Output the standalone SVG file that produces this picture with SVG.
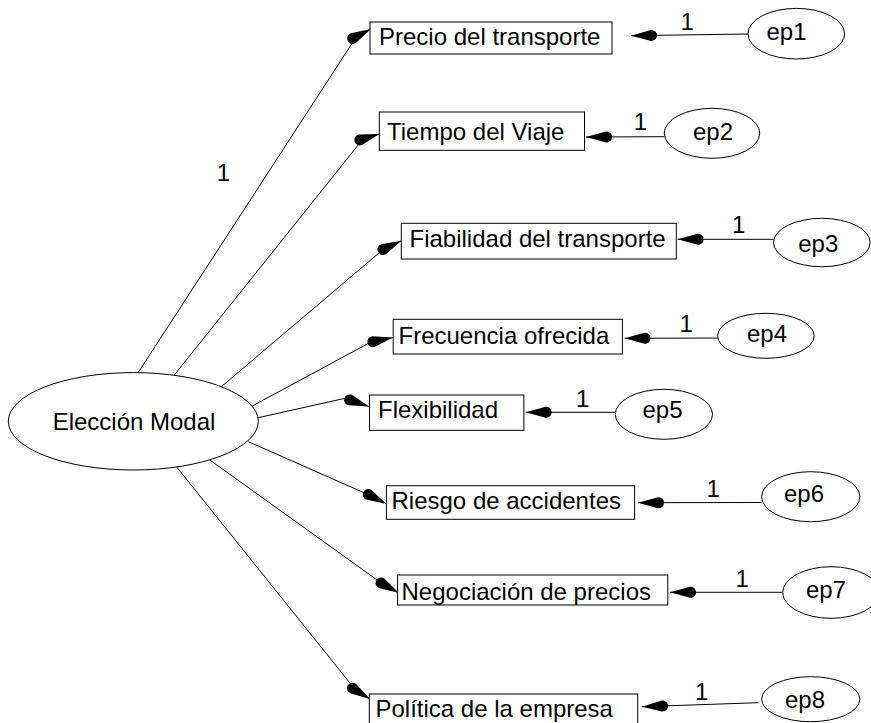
<svg xmlns="http://www.w3.org/2000/svg" width="871" height="723" viewBox="0 0 871 723">
<style>
text{font-family:"Liberation Sans",Arial,sans-serif;font-size:24px;fill:#000}
.box,.ell{fill:#fff;stroke:#000;stroke-width:1}
.c{fill:none;stroke:#000;stroke-width:1;marker-end:url(#ah)}
.m{text-anchor:middle}
</style>
<defs>
<marker id="ah" markerUnits="userSpaceOnUse" viewBox="-27 -7 28 14" refX="0" refY="0" markerWidth="28" markerHeight="14" orient="auto">
<path d="M0,0 L-20,-5.5 C-24,-5.5 -26,-3 -26,0 C-26,3 -24,5.5 -20,5.5 Z" fill="#000"/>
</marker>
</defs>
<rect width="871" height="723" fill="#fff"/>
<g id="connectors">
<path class="c" d="M137.7,373.3 L356.5,36.5 L371,29"/>
<path class="c" d="M171.7,378.3 L363,139 L379.5,134"/>
<path class="c" d="M218.3,389.3 L383.3,249.3 L401.5,240.7"/>
<path class="c" d="M252.3,406 L370,342.5 L393,337.5"/>
<path class="c" d="M258.3,417.7 L345,398.3 L369,406.5"/>
<path class="c" d="M248.3,441.7 L369.3,495 L386.5,504"/>
<path class="c" d="M206.7,457.7 L381.7,583.3 L399,593"/>
<path class="c" d="M174.3,464 L355.5,690 L370,699"/>
<path class="c" d="M748,34 L631,35.7"/>
<path class="c" d="M664.4,136.7 L586,137"/>
<path class="c" d="M773.5,239.3 L677.6,239.3"/>
<path class="c" d="M717.6,338 L624.5,338.3"/>
<path class="c" d="M615.3,412.3 L525.6,412.3"/>
<path class="c" d="M761.6,502.5 L638,502.7"/>
<path class="c" d="M782.7,592.3 L670,592.3"/>
<path class="c" d="M758.3,702.7 L642,706.7"/>
<text x="216.7" y="181">1</text>
<text x="680.4" y="30">1</text>
<text x="633.7" y="130">1</text>
<text x="732" y="233.3">1</text>
<text x="679.4" y="332.3">1</text>
<text x="576" y="406.7">1</text>
<text x="706.4" y="496.7">1</text>
<text x="735.5" y="586.7">1</text>
<text x="695" y="700">1</text>
</g>
<g id="eleccion">
<ellipse class="ell" cx="133.3" cy="421.3" rx="125" ry="48.7"/>
<text class="m" x="134" y="430">Elección Modal</text>
</g>
<g id="precio"><rect class="box" x="370" y="22" width="242" height="32"/><text x="379" y="45">Precio del transporte</text></g>
<g id="tiempo"><rect class="box" x="379.3" y="112" width="205.2" height="38.3"/><text x="387" y="140">Tiempo del Viaje</text></g>
<g id="fiabilidad"><rect class="box" x="401.3" y="223.3" width="275" height="35.7"/><text x="409.5" y="246.7">Fiabilidad del transporte</text></g>
<g id="frecuencia"><rect class="box" x="393.2" y="319.3" width="229.2" height="34.7"/><text x="398.5" y="344.3">Frecuencia ofrecida</text></g>
<g id="flexibilidad"><rect class="box" x="369.5" y="395" width="154.4" height="35.3"/><text x="378" y="418.3">Flexibilidad</text></g>
<g id="riesgo"><rect class="box" x="386.4" y="485.7" width="248.2" height="33.6"/><text x="391.5" y="509">Riesgo de accidentes</text></g>
<g id="negociacion"><rect class="box" x="397.6" y="575" width="270.2" height="30"/><text x="401.5" y="600">Negociación de precios</text></g>
<g id="politica"><rect class="box" x="369.3" y="694" width="268.4" height="40"/><text x="375.5" y="717">Política de la empresa</text></g>
<g id="ep1"><ellipse class="ell" cx="796.3" cy="33.7" rx="48.3" ry="25.3"/><text class="m" x="786.5" y="40">ep1</text></g>
<g id="ep2"><ellipse class="ell" cx="712" cy="133.3" rx="47.7" ry="25"/><text class="m" x="713" y="140">ep2</text></g>
<g id="ep3"><ellipse class="ell" cx="821.8" cy="242.5" rx="48.3" ry="24.2"/><text class="m" x="818.3" y="251.7">ep3</text></g>
<g id="ep4"><ellipse class="ell" cx="765.9" cy="335.8" rx="48.3" ry="22.5"/><text class="m" x="767" y="341.7">ep4</text></g>
<g id="ep5"><ellipse class="ell" cx="663.9" cy="414.3" rx="48.6" ry="25"/><text class="m" x="662.5" y="417.7">ep5</text></g>
<g id="ep6"><ellipse class="ell" cx="810.7" cy="496.7" rx="49.1" ry="25"/><text class="m" x="804" y="501.7">ep6</text></g>
<g id="ep7"><ellipse class="ell" cx="831" cy="592.5" rx="48.3" ry="25.8"/><text class="m" x="826" y="597.5">ep7</text></g>
<g id="ep8"><ellipse class="ell" cx="810.7" cy="699.2" rx="49.1" ry="22.5"/><text class="m" x="805" y="708.3">ep8</text></g>
</svg>
